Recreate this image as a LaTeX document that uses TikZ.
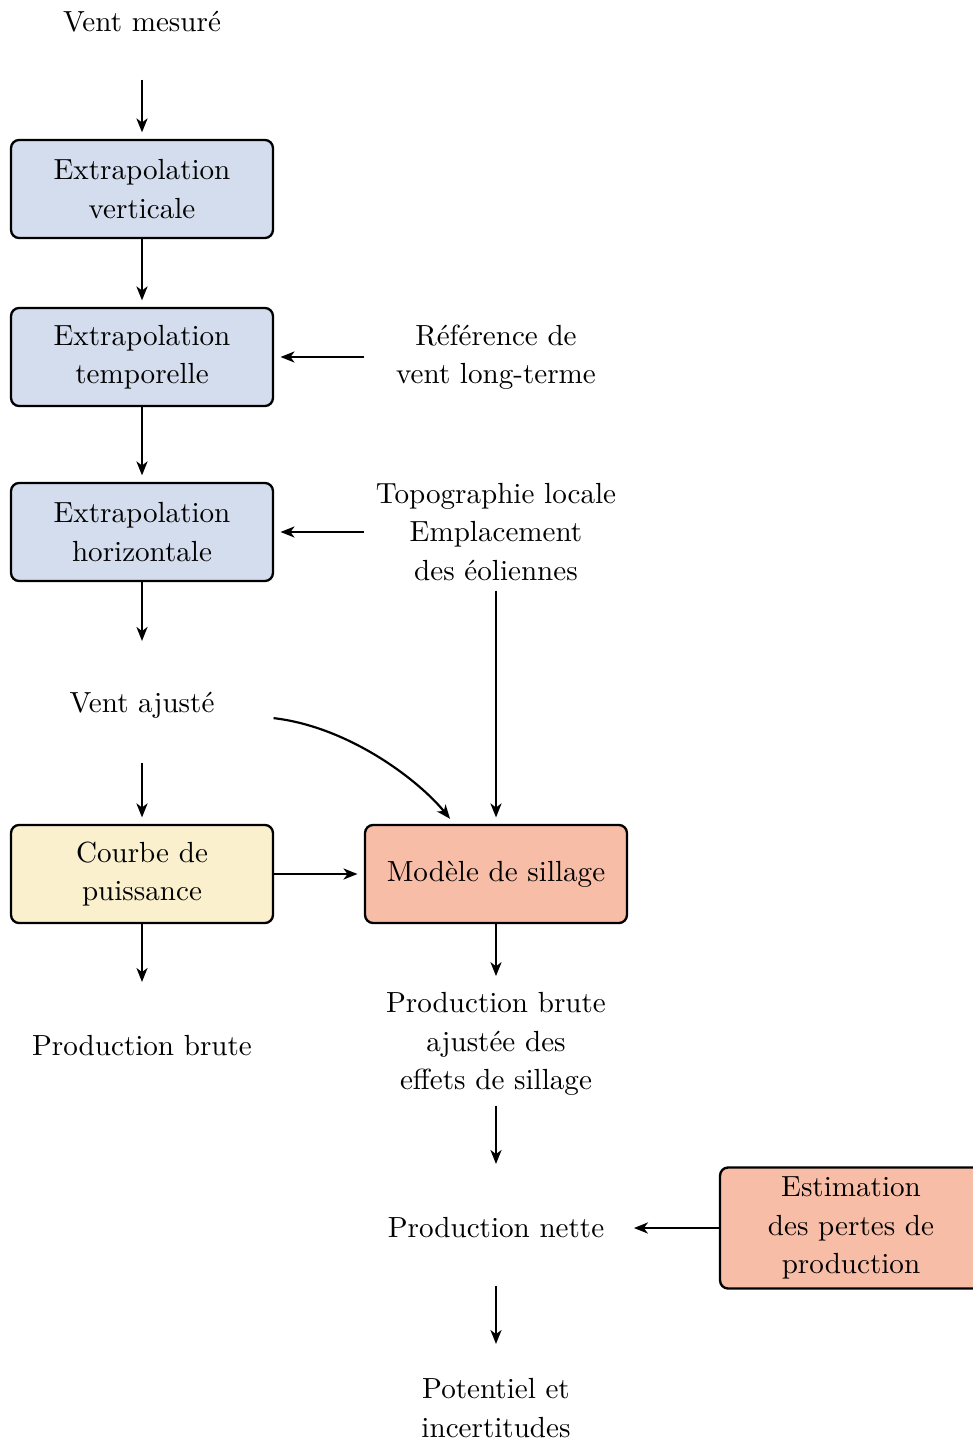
\documentclass[tikz,border=0pt]{standalone}
\usetikzlibrary{arrows.meta}
\definecolor{cblue}{RGB}{212,221,238}
\definecolor{cyellow}{RGB}{250,240,205}
\definecolor{csalmon}{RGB}{248,189,166}
\begin{document}
\begin{tikzpicture}[x=0.3436pt,y=-0.3436pt,
  every node/.style={font=\fontsize{10}{13.1}\selectfont, align=center, minimum width=90pt, inner sep=3.33pt},
  box/.style={draw, line width=0.8pt, rounded corners=2.8pt, minimum height=33.7pt},
  txt/.style={minimum height=39.2pt},
  arr/.style={-{Stealth[length=4.8pt,width=3.8pt,inset=1.4pt]}, line width=0.75pt, shorten >=2.2pt}]
\useasboundingbox (0,0) rectangle (973,1439);
\node[txt] (vm) at (142,22) {Vent mesuré};
\node[box, fill=cblue] (ev) at (142,189) {Extrapolation\\verticale};
\node[box, fill=cblue] (et) at (142,357) {Extrapolation\\temporelle};
\node[box, fill=cblue] (eh) at (142,532) {Extrapolation\\horizontale};
\node[txt] (va) at (142,705) {Vent ajusté};
\node[box, fill=cyellow] (cp) at (142,874) {Courbe de\\puissance};
\node[txt] (pb) at (142,1046) {Production brute};
\node[txt] (ref) at (496,357) {Référence de\\vent long-terme};
\node[txt] (topo) at (496,532) {Topographie locale\\Emplacement\\des éoliennes};
\node[box, fill=csalmon] (ms) at (496,874) {Modèle de sillage};
\node[txt] (pba) at (496,1044) {Production brute\\ajustée des\\effets de sillage};
\node[txt] (pn) at (496,1228) {Production nette};
\node[box, fill=csalmon] (est) at (851,1228) {Estimation\\des pertes de\\production};
\node[txt] (pot) at (496,1408) {Potentiel et\\incertitudes};
\draw[arr] (vm) -- (ev);
\draw[arr] (ev) -- (et);
\draw[arr] (et) -- (eh);
\draw[arr] (eh) -- (va);
\draw[arr] (va) -- (cp);
\draw[arr] (cp) -- (pb);
\draw[arr] (ref) -- (et);
\draw[arr] (topo) -- (eh);
\draw[arr] (topo) -- (ms);
\draw[arr] ([yshift=-4.5pt]va.east) .. controls +(77,9) and +(-34,-42) .. ([xshift=-14.4pt]ms.north);
\draw[arr] (cp) -- (ms);
\draw[arr] (ms) -- (pba);
\draw[arr] (pba) -- (pn);
\draw[arr] (est) -- (pn);
\draw[arr] (pn) -- (pot);
\end{tikzpicture}
\end{document}
